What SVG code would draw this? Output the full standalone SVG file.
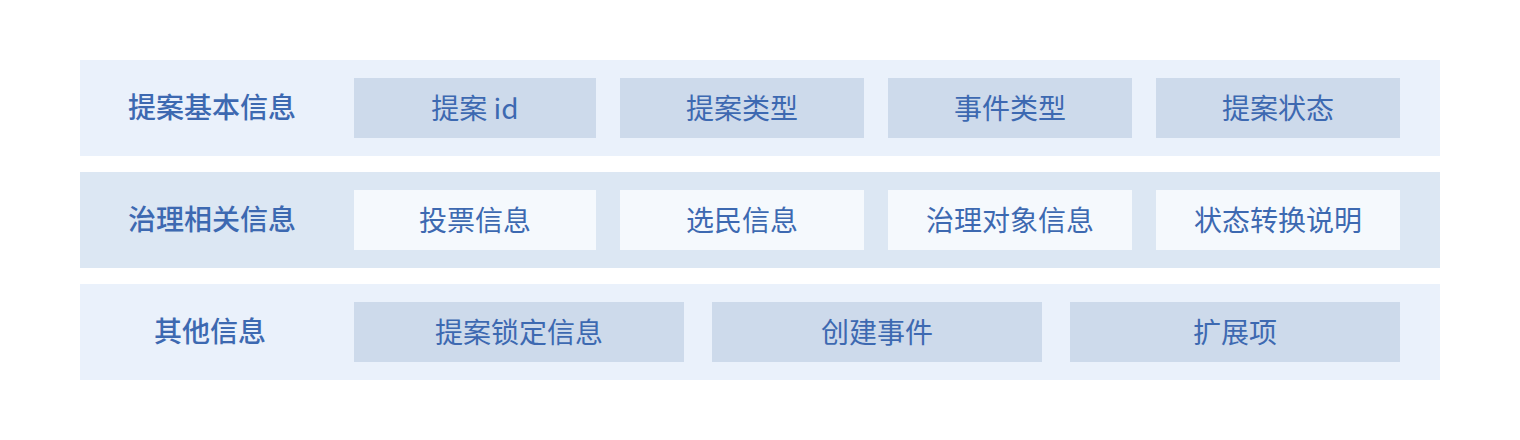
<svg xmlns="http://www.w3.org/2000/svg" width="1520" height="440" viewBox="0 0 1520 440">
<style>
.row-a{fill:#EAF1FB}
.row-b{fill:#DCE7F3}
.box{fill:#CDDAEB}
.box-l{fill:#F5F9FD}
text{font-family:"Noto Sans CJK SC","Noto Sans",sans-serif;fill:#3D69B1;text-anchor:middle;dominant-baseline:central;font-size:28px}
.lbl{font-weight:500;font-size:28px}
</style>
<rect width="1520" height="440" fill="#FFFFFF"/>
<g id="row1">
<rect class="row-a" x="80" y="60" width="1360" height="96"/>
<text class="lbl" x="212" y="106">提案基本信息</text>
</g>
<g id="n-proposal-id"><rect class="box" x="354" y="78" width="242" height="60"/><text x="475" y="107">提案 id</text></g>
<g id="n-proposal-type"><rect class="box" x="620" y="78" width="244" height="60"/><text x="742" y="107">提案类型</text></g>
<g id="n-event-type"><rect class="box" x="888" y="78" width="244" height="60"/><text x="1010" y="107">事件类型</text></g>
<g id="n-proposal-status"><rect class="box" x="1156" y="78" width="244" height="60"/><text x="1278" y="107">提案状态</text></g>
<g id="row2">
<rect class="row-b" x="80" y="172" width="1360" height="96"/>
<text class="lbl" x="212" y="218">治理相关信息</text>
</g>
<g id="n-vote"><rect class="box-l" x="354" y="190" width="242" height="60"/><text x="475" y="219">投票信息</text></g>
<g id="n-voter"><rect class="box-l" x="620" y="190" width="244" height="60"/><text x="742" y="219">选民信息</text></g>
<g id="n-target"><rect class="box-l" x="888" y="190" width="244" height="60"/><text x="1010" y="219">治理对象信息</text></g>
<g id="n-transition"><rect class="box-l" x="1156" y="190" width="244" height="60"/><text x="1278" y="219">状态转换说明</text></g>
<g id="row3">
<rect class="row-a" x="80" y="284" width="1360" height="96"/>
<text class="lbl" x="210" y="330">其他信息</text>
</g>
<g id="n-lock"><rect class="box" x="354" y="302" width="330" height="60"/><text x="519" y="331">提案锁定信息</text></g>
<g id="n-create"><rect class="box" x="712" y="302" width="330" height="60"/><text x="877" y="331">创建事件</text></g>
<g id="n-ext"><rect class="box" x="1070" y="302" width="330" height="60"/><text x="1235" y="331">扩展项</text></g>
<g id="connectors"></g>
</svg>
